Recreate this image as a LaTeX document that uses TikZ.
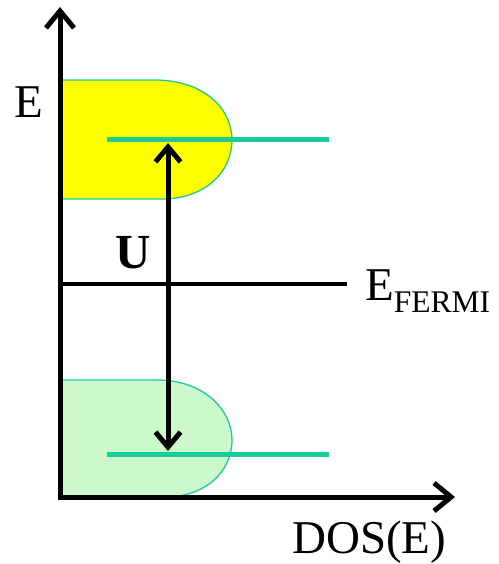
\documentclass[tikz,border=0pt]{standalone}
\usepackage{fontspec}
\setmainfont{Liberation Serif}
\usetikzlibrary{arrows.meta}
\definecolor{teal1}{HTML}{19CC99}
\definecolor{ylw}{HTML}{FFFF00}
\definecolor{grn}{HTML}{CCF9CC}
\tikzset{
  axis/.style={line width=5pt,-{Straight Barb[length=17pt,width=28pt]}},
  band/.style={draw=teal1,line width=1.3pt},
  level/.style={draw=teal1,line width=5pt},
  lbl/.style={inner sep=0pt,font=\fontsize{47}{50}\selectfont},
  darrow/.style={line width=5pt,{Straight Barb[length=15pt,width=25pt]}-{Straight Barb[length=15pt,width=25pt]}}
}
\begin{document}
\begin{tikzpicture}[x=1pt,y=-1pt]
\useasboundingbox (0,0) rectangle (498,564);
% bands
\path[band,fill=ylw] (60,80) -- (155,80) .. controls (203,80) and (232,108) .. (232,140) .. controls (232,172) and (205,199) .. (162,199) -- (60,199) -- cycle;
\path[band,fill=grn] (60,380) -- (157,380) .. controls (204,380) and (232,410) .. (232,440) .. controls (232,472) and (205,497) .. (165,497) -- (60,497) -- cycle;
% coordinates
\coordinate (O) at (60,497);
\coordinate (ytop) at (60,7);
\coordinate (xend) at (455,497);
\coordinate (f1) at (60,284);
\coordinate (f2) at (347,284);
\coordinate (u1) at (107,140);
\coordinate (u2) at (329,140);
\coordinate (l1) at (107,454);
\coordinate (l2) at (329,454);
\coordinate (at) at (168,143);
\coordinate (ab) at (168,451);
% levels
\draw[level] (u1) -- (u2);
\draw[level] (l1) -- (l2);
% fermi line
\draw[line width=4.5pt] (f1) -- (f2);
% U arrow
\draw[darrow] (ab) -- (at);
% axes
\draw[axis] ([yshift=2.5pt]O) -- (ytop);
\draw[axis] ([xshift=-2.5pt]O) -- (xend);
% labels
\node[lbl,anchor=base] (E) at (29,118) {E};
\node[lbl,anchor=base west] (EF) at (365,300) {E\raisebox{-12pt}{\fontsize{31.5}{33}\selectfont FERMI}};
\node[lbl,anchor=base] (U) at (133,268) {\fontsize{49}{50}\selectfont\bfseries U};
\node[lbl,anchor=base west] (dos) at (292,553) {DOS(E)};
\end{tikzpicture}
\end{document}
